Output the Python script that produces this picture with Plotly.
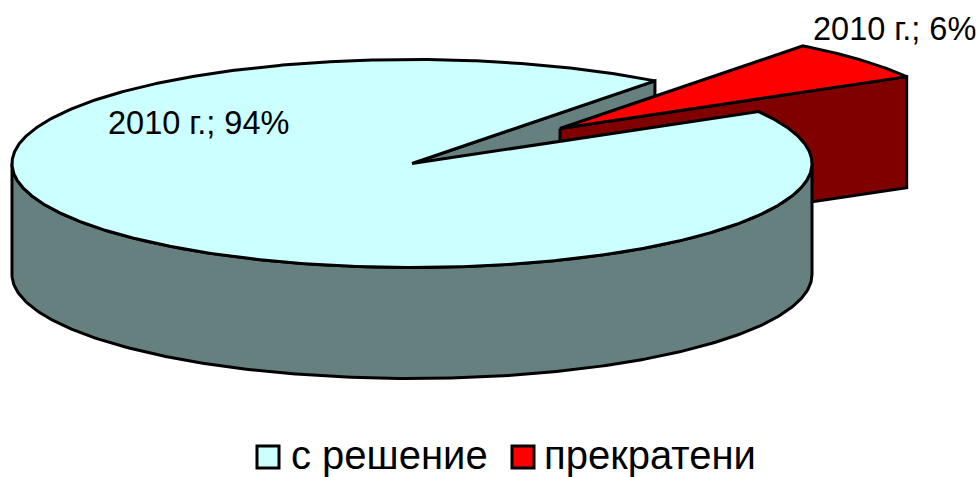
import numpy as np
import plotly.graph_objects as go

categories = ["с решение", "прекратени"]
year_label = "2010 г."
values = [93.7, 6.3]

TOP_COLORS = ["#CCFFFF", "#FF0000"]
SIDE_COLORS = ["#668080", "#800000"]
FONT = "Liberation Sans, Arial, sans-serif"

CX, CY, RX, RY, DEPTH = 412.0, 163.5, 400.0, 104.0, 111.0
START_DEG = 52.6
EXPLODE = (148.0, -35.0)


def rim(theta_from, theta_to, ox=0.0, oy=0.0, drop=0.0, n=240):
    t = np.radians(np.linspace(theta_from, theta_to, n))
    return (CX + ox + RX * np.cos(t)), (CY + oy + drop - RY * np.sin(t))


def poly(fig, xs, ys, fill):
    fig.add_trace(go.Scatter(
        x=list(xs) + [xs[0]], y=list(ys) + [ys[0]], mode="lines", fill="toself",
        fillcolor=fill, line=dict(color="black", width=3), hoverinfo="skip", showlegend=False,
    ))


total = sum(values)
sweep_small = values[1] / total * 360
a_top = START_DEG
a_low = START_DEG - sweep_small
big_end = a_low + 360

fig = go.Figure()

# cut face of the large slice, seen through the notch
ex, ey = rim(a_top, a_top, n=1)
poly(fig, [CX, ex[0], ex[0], CX], [CY, ey[0], ey[0] + DEPTH, CY + DEPTH], SIDE_COLORS[0])

# exploded small slice: cut face, then top
ox, oy = EXPLODE
lx, ly = rim(a_low, a_low, ox, oy, n=1)
poly(fig, [CX + ox, lx[0], lx[0], CX + ox],
     [CY + oy, ly[0], ly[0] + DEPTH, CY + oy + DEPTH], SIDE_COLORS[1])
ax, ay = rim(a_low, a_top, ox, oy)
poly(fig, [CX + ox] + list(ax), [CY + oy] + list(ay), TOP_COLORS[1])

# large slice: outer wall, then top
wx, wy = rim(180, 360)
bx, by = rim(360, 180, drop=DEPTH)
poly(fig, list(wx) + list(bx), list(wy) + list(by), SIDE_COLORS[0])
tx, ty = rim(a_top, big_end, n=720)
poly(fig, [CX] + list(tx), [CY] + list(ty), TOP_COLORS[0])

# data labels
for i, (lab_x, lab_y) in enumerate([(198, 123), (894, 29)]):
    fig.add_annotation(x=lab_x, y=lab_y, text=f"{year_label}; {round(values[i])}%", showarrow=False,
                       xanchor="center", yanchor="middle", font=dict(family=FONT, size=32.5, color="black"))

# legend
for i, (sw_x, txt_x) in enumerate([(268, 289), (523, 542)]):
    fig.add_trace(go.Scatter(
        x=[sw_x], y=[457], mode="markers", hoverinfo="skip", showlegend=False,
        marker=dict(symbol="square", size=22, color=TOP_COLORS[i], line=dict(color="black", width=3)),
    ))
    fig.add_annotation(x=txt_x, y=454.5, text=categories[i], showarrow=False, xanchor="left",
                       yanchor="middle", font=dict(family=FONT, size=40, color="black"))

fig.update_layout(
    width=980, height=477, margin=dict(l=0, r=0, t=0, b=0),
    paper_bgcolor="white", plot_bgcolor="white", showlegend=False,
    xaxis=dict(range=[0, 980], visible=False, fixedrange=True),
    yaxis=dict(range=[477, 0], visible=False, fixedrange=True),
)
fig.write_html("out.html", config={"displayModeBar": False},
               post_script="document.body.style.margin='0';document.body.style.overflow='hidden';")
